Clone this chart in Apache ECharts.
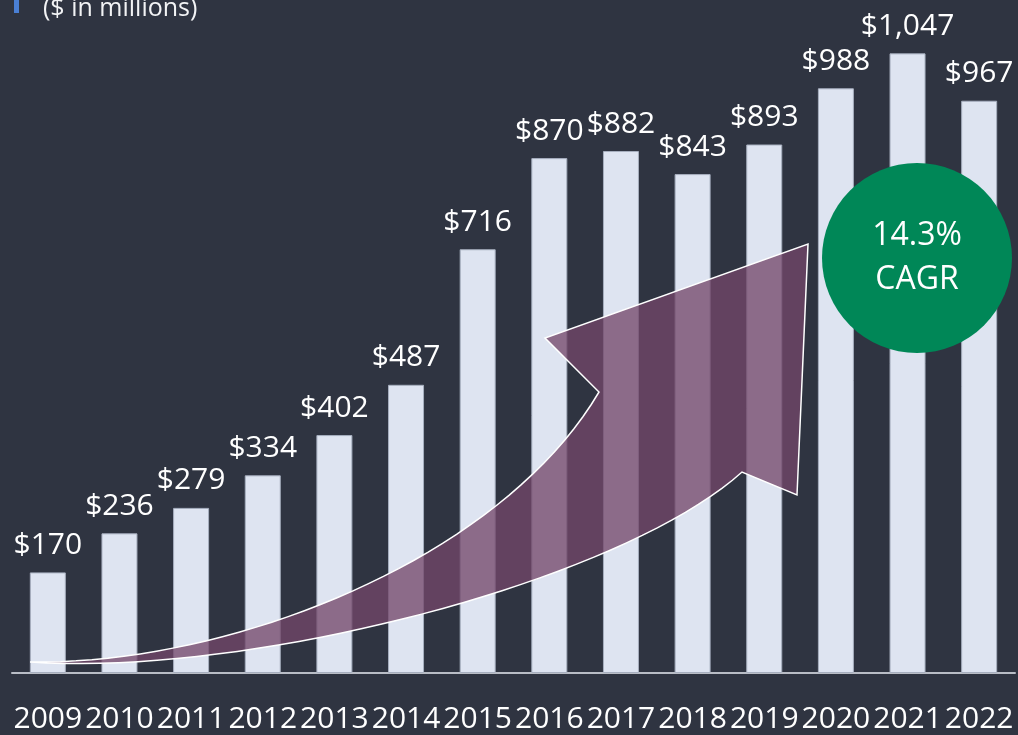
<!DOCTYPE html>
<html>
<head>
<meta charset="utf-8">
<title>Revenue 2009-2022</title>
<script src="https://cdn.jsdelivr.net/npm/echarts@6/dist/echarts.min.js"></script>
<style>
  html, body { margin: 0; padding: 0; background: #2f3441; }
  #chart { width: 1018px; height: 735px; }
</style>
</head>
<body>
<div id="chart"></div>
<script>
// data
const years = ['2009', '2010', '2011', '2012', '2013', '2014', '2015', '2016', '2017', '2018', '2019', '2020', '2021', '2022'];
const revenue = [170, 236, 279, 334, 402, 487, 716, 870, 882, 843, 893, 988, 1047, 967];
const subtitle = '($ in millions)';
const cagrText = ['14.3%', 'CAGR'];

const FONT = '"Open Sans", "Noto Sans", sans-serif';
const chart = echarts.init(document.getElementById('chart'));

// growth arrow (decoration): sample the two curved edges into a polygon
function cubic(p0, p1, p2, p3, n) {
  const pts = [];
  for (let i = 0; i <= n; i++) {
    const t = i / n, u = 1 - t;
    pts.push([
      u * u * u * p0[0] + 3 * u * u * t * p1[0] + 3 * u * t * t * p2[0] + t * t * t * p3[0],
      u * u * u * p0[1] + 3 * u * u * t * p1[1] + 3 * u * t * t * p2[1] + t * t * t * p3[1]
    ]);
  }
  return pts;
}
const arrowPts = [
  ...cubic([30, 662], [230, 665], [500, 560], [599, 392], 40),
  [545, 338], [808, 244], [797, 495],
  ...cubic([742, 472], [620, 582], [250, 677], [30, 662], 40)
];

chart.setOption({
  backgroundColor: '#2f3441',
  animation: false,
  grid: { left: 12, right: 3, top: 22, bottom: 62 },
  xAxis: {
    type: 'category',
    data: years,
    axisTick: { show: false },
    axisLine: { lineStyle: { color: '#b9bdc6', width: 2 } },
    axisLabel: { color: '#ffffff', fontSize: 30, fontFamily: FONT, margin: 31, interval: 0 }
  },
  yAxis: {
    type: 'value',
    min: 0,
    max: 1100,
    show: false,
    splitLine: { show: false }
  },
  series: [{
    type: 'bar',
    data: revenue,
    barWidth: 36,
    itemStyle: { color: '#dee4f1', borderColor: '#a7afbf', borderWidth: 1 },
    label: {
      show: true,
      position: 'top',
      distance: 12,
      color: '#ffffff',
      fontSize: 30,
      fontFamily: FONT,
      formatter: (p) => '$' + p.value.toLocaleString('en-US')
    }
  }],
  graphic: [
    { type: 'rect', shape: { x: 14, y: 0, width: 5, height: 13 }, style: { fill: '#4a7fd4' }, z: 10 },
    {
      type: 'text', x: 43, y: 21, z: 10,
      style: { text: subtitle, fill: '#f2f3f5', font: '25px ' + FONT, verticalAlign: 'bottom' }
    },
    {
      type: 'polygon', z: 20,
      shape: { points: arrowPts },
      style: { fill: 'rgba(115,70,105,0.77)', stroke: '#ffffff', lineWidth: 1.5, lineJoin: 'miter' }
    },
    {
      type: 'circle', z: 30,
      shape: { cx: 917, cy: 258, r: 95 },
      style: { fill: '#008757' }
    },
    {
      type: 'text', x: 917, y: 236, z: 31,
      style: { text: cagrText[0], fill: '#ffffff', font: '32px ' + FONT, align: 'center', verticalAlign: 'middle' }
    },
    {
      type: 'text', x: 917, y: 280, z: 31,
      style: { text: cagrText[1], fill: '#ffffff', font: '32px ' + FONT, align: 'center', verticalAlign: 'middle' }
    }
  ]
});
</script>
</body>
</html>
